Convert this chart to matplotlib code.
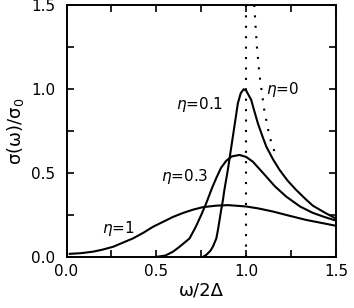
import numpy as np
import matplotlib
matplotlib.use("Agg")
import matplotlib.pyplot as plt
from matplotlib.ticker import MultipleLocator, FormatStrFormatter

# values
x_eta01 = [0.759, 0.778, 0.80, 0.815, 0.834, 0.843, 0.852, 0.861, 0.871, 0.879, 0.898, 0.926,
           0.954, 0.97, 0.986, 1.0, 1.028, 1.045, 1.065, 1.09, 1.112, 1.15, 1.186, 1.23, 1.278,
           1.33, 1.371, 1.44, 1.5]
y_eta01 = [0.0, 0.012, 0.035, 0.061, 0.11, 0.161, 0.22, 0.28, 0.34, 0.40, 0.518, 0.716,
           0.915, 0.975, 0.998, 0.99, 0.935, 0.87, 0.796, 0.72, 0.657, 0.58, 0.518, 0.455, 0.399,
           0.345, 0.305, 0.262, 0.228]

x_eta03 = [0.5, 0.55, 0.593, 0.63, 0.685, 0.72, 0.75, 0.778, 0.81, 0.834, 0.86, 0.889, 0.92,
           0.963, 1.0, 1.037, 1.07, 1.112, 1.16, 1.223, 1.3, 1.371, 1.44, 1.5]
y_eta03 = [0.0, 0.008, 0.031, 0.061, 0.11, 0.18, 0.25, 0.32, 0.41, 0.47, 0.53, 0.572, 0.598,
           0.607, 0.595, 0.567, 0.528, 0.478, 0.42, 0.359, 0.30, 0.262, 0.236, 0.216]

x_eta1 = [0.018, 0.08, 0.148, 0.2, 0.259, 0.31, 0.37, 0.43, 0.481, 0.54, 0.593, 0.65, 0.704,
          0.759, 0.834, 0.90, 1.0, 1.07, 1.149, 1.24, 1.334, 1.42, 1.5]
y_eta1 = [0.018, 0.022, 0.031, 0.043, 0.06, 0.083, 0.11, 0.145, 0.179, 0.21, 0.238, 0.262, 0.281,
          0.296, 0.305, 0.308, 0.30, 0.288, 0.27, 0.245, 0.22, 0.202, 0.185]

x_eta0 = [1.045, 1.06, 1.074, 1.10, 1.13, 1.167]
y_eta0 = [1.5, 1.25, 1.087, 0.88, 0.716, 0.597]

labels = ["$\\eta$=0", "$\\eta$=0.1", "$\\eta$=0.3", "$\\eta$=1"]
label_pos = [(1.112, 0.994), (0.611, 0.91), (0.528, 0.478), (0.195, 0.171)]

plt.rcParams["font.family"] = "DejaVu Sans"
plt.rcParams["mathtext.fontset"] = "dejavusans"

fig = plt.figure(figsize=(3.54, 3.08), dpi=100)
ax = fig.add_axes([0.188, 0.166, 0.761, 0.818])

ax.plot(x_eta01, y_eta01, color="black", lw=1.5)
ax.plot(x_eta03, y_eta03, color="black", lw=1.5)
ax.plot(x_eta1, y_eta1, color="black", lw=1.5)
ax.plot(x_eta0, y_eta0, color="black", lw=1.5, ls=(0, (1, 4)))
ax.plot([1.0, 1.0], [0.0, 1.5], color="black", lw=1.5, ls=(0, (1, 4)))

for lab, (lx, ly) in zip(labels, label_pos):
    ax.text(lx, ly, lab, fontsize=11, va="center", ha="left")

ax.set_xlim(0, 1.5)
ax.set_ylim(0, 1.5)
ax.xaxis.set_major_locator(MultipleLocator(0.5))
ax.yaxis.set_major_locator(MultipleLocator(0.5))
ax.xaxis.set_minor_locator(MultipleLocator(0.25))
ax.yaxis.set_minor_locator(MultipleLocator(0.25))
ax.tick_params(which="both", direction="in", top=True, right=True, length=5, width=1.2, labelsize=11)
ax.tick_params(axis="x", pad=5)
ax.tick_params(axis="y", pad=8)
ax.xaxis.set_major_formatter(FormatStrFormatter("%.1f"))
ax.yaxis.set_major_formatter(FormatStrFormatter("%.1f"))
for s in ax.spines.values():
    s.set_linewidth(1.4)

ax.set_xlabel("ω/2Δ", fontsize=13, labelpad=2)
ax.set_ylabel("σ(ω)/σ$_0$", fontsize=13, labelpad=4)

fig.savefig("out.png", dpi=100)
